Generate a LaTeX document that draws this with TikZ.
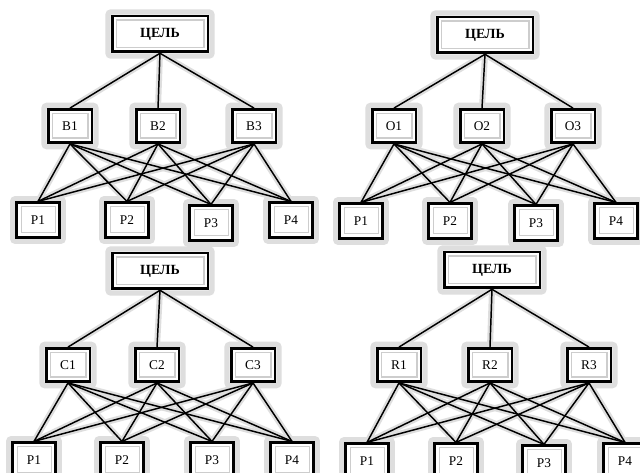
\documentclass[tikz,border=0pt]{standalone}
\usepackage{fontspec}
\setmainfont{Liberation Serif}
\pgfdeclarelayer{paper}
\pgfdeclarelayer{halo}
\pgfdeclarelayer{wires}
\pgfsetlayers{paper,halo,wires,main}
\definecolor{haloc}{RGB}{222,222,222}
\definecolor{innerc}{RGB}{205,205,205}
\tikzset{
  box/.style={draw=black, line width=1.9pt, fill=white, inner sep=0pt,
    font=\fontsize{10}{12}\selectfont,
    path picture={
      \draw[black, line width=2.6pt]
        (path picture bounding box.north west) -- (path picture bounding box.south west)
        -- (path picture bounding box.south east);
      \draw[innerc, line width=1.1pt]
        ([xshift=3.5pt,yshift=-3pt]path picture bounding box.north west) rectangle
        ([xshift=-3pt,yshift=3.5pt]path picture bounding box.south east);}},
  goalbox/.style={box, minimum width=72pt, minimum height=27pt,
    font=\fontsize{10.5}{12}\selectfont\bfseries},
  midbox/.style={box, minimum width=33pt, minimum height=25pt},
  altbox/.style={box, minimum width=32pt, minimum height=26pt},
  wire/.style={draw=black, line width=1.1pt},
  halowire/.style={draw=haloc, line width=4.5pt, line cap=round},
  halobox/.style={draw=haloc, line width=4pt, rounded corners=2pt},
}
% #1 prefix, #2 letter, #3 goal position, #4 three criterion positions, #5 four alternative positions
\newcommand{\hierpanel}[5]{%
  \node[goalbox] (#1g) at (#3) {ЦЕЛЬ};
  \foreach \px/\py [count=\i] in {#4} {\node[midbox] (#1m\i) at (\px,\py) {#2\i};}
  \foreach \px/\py [count=\j] in {#5} {\node[altbox] (#1p\j) at (\px,\py) {P\j};}
  \begin{pgfonlayer}{halo}
    \draw[halobox] ([shift={(-2pt,2pt)}]#1g.north west) rectangle ([shift={(2pt,-2pt)}]#1g.south east);
    \foreach \i in {1,2,3} {
      \draw[halobox] ([shift={(-2pt,2pt)}]#1m\i.north west) rectangle ([shift={(2pt,-2pt)}]#1m\i.south east);
      \draw[halowire] (#1g.south) -- (#1m\i.north);
      \foreach \j in {1,2,3,4} {\draw[halowire] (#1m\i.south) -- (#1p\j.north);}
    }
    \foreach \j in {1,2,3,4} {
      \draw[halobox] ([shift={(-2pt,2pt)}]#1p\j.north west) rectangle ([shift={(2pt,-2pt)}]#1p\j.south east);
    }
  \end{pgfonlayer}
  \begin{pgfonlayer}{wires}
    \foreach \i in {1,2,3} {
      \draw[wire] (#1g.south) -- (#1m\i.north);
      \foreach \j in {1,2,3,4} {\draw[wire] (#1m\i.south) -- (#1p\j.north);}
    }
  \end{pgfonlayer}
}
\begin{document}
\begin{tikzpicture}[x=0.75pt, y=-0.75pt]
  \useasboundingbox (0,0) rectangle (640,472);
  \begin{pgfonlayer}{paper}
    \fill[white] (0,0) rectangle (640,472);
  \end{pgfonlayer}
  \hierpanel{a}{B}{160,34}{70/126,158/126,254/126}{38/220,127/220,211/223,291/220}
  \hierpanel{b}{O}{485,35}{394/126,482/126,573/126}{361/221,450/221,536/223,616/221}
  \hierpanel{c}{C}{160,271}{68/365,157/365,253/365}{34/460,122/460,212/460,292/460}
  \hierpanel{d}{R}{492,270}{399/365,490/365,589/365}{367/461,456/461,544/463,625/461}
\end{tikzpicture}
\end{document}
